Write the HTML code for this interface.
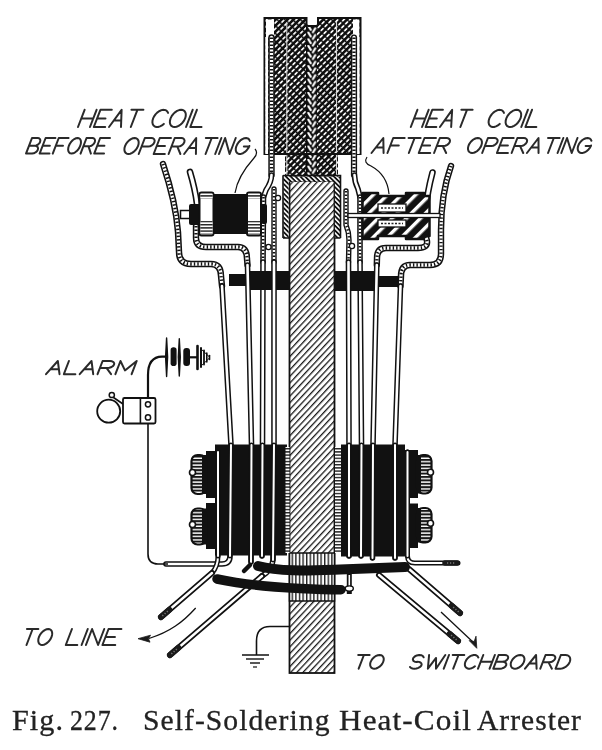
<!DOCTYPE html>
<html><head><meta charset="utf-8">
<style>
html,body{margin:0;padding:0;background:#fff;width:602px;height:750px;overflow:hidden}
svg{display:block;filter:blur(0.35px)}
.lbl{font-family:"Liberation Sans",sans-serif;font-style:italic;fill:#1e1e1e}
.cap{font-family:"Liberation Serif",serif;fill:#222;stroke:#222;stroke-width:0.3}
.bk{fill:none;stroke:#111;stroke-linejoin:round;stroke-linecap:round}
.wh{fill:none;stroke:#fff;stroke-linejoin:round;stroke-linecap:round}
.ln{fill:none;stroke:#111}
</style></head><body>
<svg width="602" height="750" viewBox="0 0 602 750">
<defs>
  <pattern id="hatch" patternUnits="userSpaceOnUse" width="4.5" height="4.5" patternTransform="rotate(43)">
    <rect width="4.5" height="4.5" fill="#fff"/>
    <rect x="0" y="0" width="1.3" height="4.5" fill="#1a1a1a"/>
  </pattern>
  <pattern id="dark" patternUnits="userSpaceOnUse" width="4.2" height="5.5" patternTransform="rotate(45)">
    <rect width="4.2" height="5.5" fill="#0e0e0e"/>
    <rect x="0" y="0" width="1.7" height="4.2" rx="0.8" fill="#fafafa"/>
  </pattern>
  <pattern id="herr" patternUnits="userSpaceOnUse" x="306" y="25" width="11.5" height="6.7">
    <rect width="11.5" height="6.7" fill="#0e0e0e"/>
    <path d="M2.3,0.8 L4.7,4.7 M9.3,3.3 L6.9,7.2 M9.3,-3.4 L6.9,0.5" stroke="#fff" stroke-width="2.1" stroke-linecap="round" fill="none"/>
  </pattern>
  <pattern id="stripes" patternUnits="userSpaceOnUse" width="10" height="10" patternTransform="rotate(45)">
    <rect width="10" height="10" fill="#111"/>
    <rect x="0" y="0" width="3.4" height="10" fill="#fff"/>
  </pattern>
  <pattern id="vstr" patternUnits="userSpaceOnUse" width="3.6" height="4">
    <rect width="3.6" height="4" fill="#fff"/>
    <rect x="0" y="0" width="1.4" height="4" fill="#222"/>
  </pattern>
  <pattern id="hstr" patternUnits="userSpaceOnUse" width="4" height="3.2">
    <rect width="4" height="3.2" fill="#fff"/>
    <rect x="0" y="0" width="4" height="1.4" fill="#222"/>
  </pattern>
  <pattern id="nstr" patternUnits="userSpaceOnUse" width="4" height="3.4">
    <rect width="4" height="3.4" fill="#fff"/>
    <rect x="0" y="0" width="4" height="2" fill="#161616"/>
  </pattern>
  <pattern id="rope" patternUnits="userSpaceOnUse" width="3.4" height="3.4" patternTransform="rotate(-45)">
    <rect width="3.4" height="3.4" fill="#111"/>
    <rect x="0" y="0" width="1.6" height="3.4" fill="#fff"/>
  </pattern>
</defs>

<rect x="264.5" y="18" width="95.5" height="136" fill="url(#dark)"/>
<rect x="285" y="150" width="53" height="27" fill="url(#dark)"/>
<rect x="306" y="25" width="11" height="151" fill="url(#herr)"/>
<line x1="286.8" y1="22" x2="286.8" y2="176" stroke="#d8d8d8" stroke-width="1.1"/>
<line x1="336.5" y1="22" x2="336.5" y2="176" stroke="#d8d8d8" stroke-width="1.1"/>
<rect x="266" y="19.5" width="8" height="18" fill="#fff"/>
<rect x="353" y="19.5" width="6.5" height="18" fill="#fff"/>
<path d="M306.5,17 L306.5,24 Q306.5,26 308.5,26 L316,26 Q318,26 318,24 L318,17 Z" fill="#fff"/>
<path d="M264.5,18 L306.5,18 L306.5,24 Q306.5,26 308.5,26 L316,26 Q318,26 318,24 L318,18 L360.5,18 L360.5,154 L264.5,154 Z" fill="none" stroke="#111" stroke-width="2"/>
<rect x="265.3" y="37" width="2.8" height="117" fill="#fff"/>
<rect x="357" y="37" width="2.6" height="117" fill="#fff"/>
<path d="M271.5,37.5 L271.5,154 L271.5,175" class="bk" stroke-width="6.4"/>
<path d="M271.5,37.5 L271.5,154 L271.5,175" class="wh" stroke-width="3.4"/>
<path d="M271.5,37.5 L271.5,154 L271.5,175" class="bk" stroke-width="3.4" stroke-dasharray="1.4 2.1" style="stroke-linecap:butt"/>
<path d="M354,37.5 L354,154 L354,175" class="bk" stroke-width="6.2"/>
<path d="M354,37.5 L354,154 L354,175" class="wh" stroke-width="3.3"/>
<path d="M354,37.5 L354,154 L354,175" class="bk" stroke-width="3.3" stroke-dasharray="1.4 2.1" style="stroke-linecap:butt"/>
<path d="M271.5,175 Q271.5,182 266,190 L263.5,197" class="bk" stroke-width="5.6"/>
<path d="M271.5,175 Q271.5,182 266,190 L263.5,197" class="wh" stroke-width="2.6"/>
<path d="M263.5,197 L263,262" class="bk" stroke-width="5.6"/>
<path d="M263.5,197 L263,262" class="wh" stroke-width="2.6"/>
<path d="M263.5,197 L263,262" class="bk" stroke-width="2.6" stroke-dasharray="1.4 2.1" style="stroke-linecap:butt"/>
<path d="M263,262 L262.5,445 L262,556" class="bk" stroke-width="5.6"/>
<path d="M263,262 L262.5,445 L262,556" class="wh" stroke-width="2.6"/>
<path d="M354.5,175 Q354.5,182 358,189 L360,197" class="bk" stroke-width="5.6"/>
<path d="M354.5,175 Q354.5,182 358,189 L360,197" class="wh" stroke-width="2.6"/>
<path d="M360,197 L360,262" class="bk" stroke-width="5.6"/>
<path d="M360,197 L360,262" class="wh" stroke-width="2.6"/>
<path d="M360,197 L360,262" class="bk" stroke-width="2.6" stroke-dasharray="1.4 2.1" style="stroke-linecap:butt"/>
<path d="M360,262 L361.5,445 L361,556" class="bk" stroke-width="5.6"/>
<path d="M360,262 L361.5,445 L361,556" class="wh" stroke-width="2.6"/>
<rect x="289.5" y="181" width="45" height="492" fill="url(#hatch)" stroke="#111" stroke-width="1.8"/>
<path d="M286,238 L286,179 L337.5,179 L337.5,238" fill="none" stroke="url(#rope)" stroke-width="5.2"/>
<path d="M283,238 L283,176 Q283,175.5 284,175.5 L340.5,175.5 L340.5,238" fill="none" stroke="#111" stroke-width="1.6"/>
<path d="M283,238 L289.5,238 M334.5,238 L340.5,238" stroke="#111" stroke-width="1.4"/>
<rect x="289.5" y="553" width="45" height="48" fill="url(#vstr)" stroke="#111" stroke-width="1.5"/>
<rect x="229" y="274" width="18" height="12" fill="#111"/>
<rect x="247" y="271" width="42" height="19" fill="#111"/>
<rect x="335" y="271" width="42" height="20" fill="#111"/>
<rect x="377" y="276" width="21" height="11" fill="#111"/>
<path d="M163,164 C169,182 176,205 178,232 L179,252 Q179,264 191,264 L211,264 Q221,264 221,276 L222,286" class="bk" stroke-width="6.4"/>
<path d="M163,164 C169,182 176,205 178,232 L179,252 Q179,264 191,264 L211,264 Q221,264 221,276 L222,286" class="wh" stroke-width="3.3"/>
<path d="M163,164 C169,182 176,205 178,232 L179,252 Q179,264 191,264 L211,264 Q221,264 221,276 L222,286" class="bk" stroke-width="3.3" stroke-dasharray="1.4 2.1" style="stroke-linecap:butt"/>
<path d="M222,286 L231,445 L230,556 Q230,564 222,564 L166,564" class="bk" stroke-width="5.6"/>
<path d="M222,286 L231,445 L230,556 Q230,564 222,564 L166,564" class="wh" stroke-width="2.6"/>
<path d="M190,172 C193,182 195.5,192 197,204" class="bk" stroke-width="6.6"/>
<path d="M190,172 C193,182 195.5,192 197,204" class="wh" stroke-width="3.4"/>
<path d="M196,226 L196,238 Q196,247 206,247 L238,247 Q247,247 247,259 L247.5,265" class="bk" stroke-width="6.4"/>
<path d="M196,226 L196,238 Q196,247 206,247 L238,247 Q247,247 247,259 L247.5,265" class="wh" stroke-width="3.3"/>
<path d="M196,226 L196,238 Q196,247 206,247 L238,247 Q247,247 247,259 L247.5,265" class="bk" stroke-width="3.3" stroke-dasharray="1.4 2.1" style="stroke-linecap:butt"/>
<path d="M247.5,265 L251.5,445 L251,562" class="bk" stroke-width="5.6"/>
<path d="M247.5,265 L251.5,445 L251,562" class="wh" stroke-width="2.6"/>
<path d="M274,189 L274,262" class="bk" stroke-width="5.4"/>
<path d="M274,189 L274,262" class="wh" stroke-width="2.6"/>
<path d="M274,189 L274,262" class="bk" stroke-width="2.6" stroke-dasharray="1.4 2.1" style="stroke-linecap:butt"/>
<path d="M274,262 L274,445 L273,560 Q272,570 262,576" class="bk" stroke-width="5.6"/>
<path d="M274,262 L274,445 L273,560 Q272,570 262,576" class="wh" stroke-width="2.6"/>
<path d="M218,452 L218,556 Q218,566 212,573" class="bk" stroke-width="5"/>
<path d="M218,452 L218,556 Q218,566 212,573" class="wh" stroke-width="2"/>
<path d="M451,166 C446,180 441,200 441,230 L441,254 Q441,265 430,265 L410,265 Q401,265 401,276 L400.5,286" class="bk" stroke-width="6.4"/>
<path d="M451,166 C446,180 441,200 441,230 L441,254 Q441,265 430,265 L410,265 Q401,265 401,276 L400.5,286" class="wh" stroke-width="3.3"/>
<path d="M451,166 C446,180 441,200 441,230 L441,254 Q441,265 430,265 L410,265 Q401,265 401,276 L400.5,286" class="bk" stroke-width="3.3" stroke-dasharray="1.4 2.1" style="stroke-linecap:butt"/>
<path d="M400.5,286 L395,445 L395,558" class="bk" stroke-width="5.6"/>
<path d="M400.5,286 L395,445 L395,558" class="wh" stroke-width="2.6"/>
<path d="M432.5,172.5 C430,182 427,195 426,208" class="bk" stroke-width="6.6"/>
<path d="M432.5,172.5 C430,182 427,195 426,208" class="wh" stroke-width="3.4"/>
<path d="M425,233 L427,241 Q428,248 418,248 L386,248 Q377,248 377,258 L376.8,265" class="bk" stroke-width="6.4"/>
<path d="M425,233 L427,241 Q428,248 418,248 L386,248 Q377,248 377,258 L376.8,265" class="wh" stroke-width="3.3"/>
<path d="M425,233 L427,241 Q428,248 418,248 L386,248 Q377,248 377,258 L376.8,265" class="bk" stroke-width="3.3" stroke-dasharray="1.4 2.1" style="stroke-linecap:butt"/>
<path d="M376.8,265 L373,445 L372.5,558" class="bk" stroke-width="5.6"/>
<path d="M376.8,265 L373,445 L372.5,558" class="wh" stroke-width="2.6"/>
<path d="M346,191 L346,225 Q349,232 349,240 L348.5,262" class="bk" stroke-width="5.4"/>
<path d="M346,191 L346,225 Q349,232 349,240 L348.5,262" class="wh" stroke-width="2.6"/>
<path d="M346,191 L346,225 Q349,232 349,240 L348.5,262" class="bk" stroke-width="2.6" stroke-dasharray="1.4 2.1" style="stroke-linecap:butt"/>
<path d="M348.5,262 L349,445 L349,556" class="bk" stroke-width="5.6"/>
<path d="M348.5,262 L349,445 L349,556" class="wh" stroke-width="2.6"/>
<path d="M407.5,452 L407.5,556 Q407.5,563 415,563 L458,563" class="bk" stroke-width="5"/>
<path d="M407.5,452 L407.5,556 Q407.5,563 415,563 L458,563" class="wh" stroke-width="2"/>
<circle cx="278" cy="198" r="2.6" fill="#fff" stroke="#111" stroke-width="1.3"/>
<circle cx="268.5" cy="247" r="2.6" fill="#fff" stroke="#111" stroke-width="1.3"/>
<circle cx="352" cy="246" r="2.6" fill="#fff" stroke="#111" stroke-width="1.3"/>
<rect x="180.5" y="210.5" width="10" height="8" fill="#fff" stroke="#111" stroke-width="1.5"/>
<rect x="189" y="204" width="12" height="21" rx="2" fill="#111"/>
<rect x="214" y="194" width="33" height="40" fill="#111"/>
<rect x="199.5" y="192.5" width="14" height="43" rx="2" fill="#fff" stroke="#111" stroke-width="2"/>
<rect x="200.5" y="193.5" width="12" height="5" fill="url(#hstr)"/>
<rect x="200.5" y="221" width="12" height="13.5" fill="url(#hstr)"/>
<rect x="247" y="192.5" width="14" height="43" rx="2" fill="#fff" stroke="#111" stroke-width="2"/>
<rect x="248" y="193.5" width="12" height="5" fill="url(#hstr)"/>
<rect x="248" y="221" width="12" height="13.5" fill="url(#hstr)"/>
<rect x="261" y="204" width="6" height="20" rx="2" fill="#111"/>
<path d="M362.5,196 L362.5,193 L378,193 L378,196 L406,196 L406,193 L424,193 L424,196 L429.5,196 L429.5,236 L424,236 L424,239 L406,239 L406,236 L378,236 L378,239 L362.5,239 Z" fill="url(#stripes)" stroke="#111" stroke-width="2.5" stroke-linejoin="round"/>
<rect x="378" y="204" width="28" height="8" fill="#fff" stroke="#111" stroke-width="1.3"/>
<line x1="381" y1="208" x2="403" y2="208" stroke="#222" stroke-width="1.6" stroke-dasharray="2 1.5"/>
<rect x="378" y="220" width="28" height="7" fill="#fff" stroke="#111" stroke-width="1.3"/>
<line x1="381" y1="223.5" x2="403" y2="223.5" stroke="#222" stroke-width="1.6" stroke-dasharray="2 1.5"/>
<rect x="348" y="213.5" width="92" height="4" fill="#fff" stroke="#111" stroke-width="1.3"/>
<rect x="215" y="444.5" width="72" height="111" fill="#111"/>
<rect x="285.5" y="447" width="4" height="106" fill="url(#hstr)"/>
<rect x="341" y="444.5" width="64" height="112" fill="#111"/>
<rect x="335" y="447" width="6" height="106" fill="url(#hstr)"/>
<rect x="206" y="451" width="10" height="47" fill="#111"/>
<rect x="206" y="503" width="10" height="46" fill="#111"/>
<rect x="405" y="450" width="13" height="48" fill="#111"/>
<rect x="405" y="503.5" width="13" height="44.5" fill="#111"/>
<rect x="191.5" y="455" width="14.5" height="39" rx="6" fill="url(#nstr)" stroke="#111" stroke-width="2.2"/>
<rect x="202.0" y="455" width="4" height="39" fill="#111"/>
<circle cx="192.5" cy="472.5" r="3" fill="#fff" stroke="#111" stroke-width="1.6"/>
<rect x="191.5" y="508.5" width="14.5" height="36" rx="6" fill="url(#nstr)" stroke="#111" stroke-width="2.2"/>
<rect x="202.0" y="508.5" width="4" height="36" fill="#111"/>
<circle cx="192.5" cy="524.5" r="3" fill="#fff" stroke="#111" stroke-width="1.6"/>
<rect x="417" y="455" width="14.5" height="38.5" rx="6" fill="url(#nstr)" stroke="#111" stroke-width="2.2"/>
<rect x="417" y="455" width="4" height="38.5" fill="#111"/>
<circle cx="430.5" cy="472.25" r="3" fill="#fff" stroke="#111" stroke-width="1.6"/>
<rect x="417" y="508" width="14.5" height="34.5" rx="6" fill="url(#nstr)" stroke="#111" stroke-width="2.2"/>
<rect x="417" y="508" width="4" height="34.5" fill="#111"/>
<circle cx="430.5" cy="523.25" r="3" fill="#fff" stroke="#111" stroke-width="1.6"/>
<path d="M231,445 L230,556" class="bk" stroke-width="5"/>
<path d="M231,445 L230,556" class="wh" stroke-width="2"/>
<path d="M251.5,445 L251,562" class="bk" stroke-width="5"/>
<path d="M251.5,445 L251,562" class="wh" stroke-width="2"/>
<path d="M262.5,445 L262,556" class="bk" stroke-width="5"/>
<path d="M262.5,445 L262,556" class="wh" stroke-width="2"/>
<path d="M274,445 L273,560" class="bk" stroke-width="5"/>
<path d="M274,445 L273,560" class="wh" stroke-width="2"/>
<path d="M218,452 L218,556" class="bk" stroke-width="5"/>
<path d="M218,452 L218,556" class="wh" stroke-width="2"/>
<path d="M395,445 L395,558" class="bk" stroke-width="5"/>
<path d="M395,445 L395,558" class="wh" stroke-width="2"/>
<path d="M373,445 L372.5,558" class="bk" stroke-width="5"/>
<path d="M373,445 L372.5,558" class="wh" stroke-width="2"/>
<path d="M361.5,445 L361,556" class="bk" stroke-width="5"/>
<path d="M361.5,445 L361,556" class="wh" stroke-width="2"/>
<path d="M349,445 L349,556" class="bk" stroke-width="5"/>
<path d="M349,445 L349,556" class="wh" stroke-width="2"/>
<path d="M407.5,452 L407.5,556" class="bk" stroke-width="5"/>
<path d="M407.5,452 L407.5,556" class="wh" stroke-width="2"/>
<path d="M212,573 L161,617" class="bk" stroke-width="6"/>
<path d="M212,573 L161,617" class="wh" stroke-width="2.4"/>
<path d="M262,576 L170,655" class="bk" stroke-width="6"/>
<path d="M262,576 L170,655" class="wh" stroke-width="2.4"/>
<path d="M409,569 L460,613" class="bk" stroke-width="6"/>
<path d="M409,569 L460,613" class="wh" stroke-width="2.4"/>
<path d="M379,575 L458,641" class="bk" stroke-width="6"/>
<path d="M379,575 L458,641" class="wh" stroke-width="2.4"/>
<path d="M169.3,609.8 L161.0,617.0" stroke="#1a1a1a" stroke-width="6" stroke-linecap="round"/>
<path d="M167.8,611.1 L161.8,616.3" stroke="#777" stroke-width="1.6" stroke-dasharray="1.2 1.8"/>
<path d="M178.3,647.8 L170.0,655.0" stroke="#1a1a1a" stroke-width="6" stroke-linecap="round"/>
<path d="M176.8,649.1 L170.8,654.3" stroke="#777" stroke-width="1.6" stroke-dasharray="1.2 1.8"/>
<path d="M451.7,605.8 L460.0,613.0" stroke="#1a1a1a" stroke-width="6" stroke-linecap="round"/>
<path d="M453.2,607.1 L459.2,612.3" stroke="#777" stroke-width="1.6" stroke-dasharray="1.2 1.8"/>
<path d="M449.6,633.9 L458.0,641.0" stroke="#1a1a1a" stroke-width="6" stroke-linecap="round"/>
<path d="M451.1,635.2 L457.2,640.4" stroke="#777" stroke-width="1.6" stroke-dasharray="1.2 1.8"/>
<path d="M250,565 L244,571" stroke="#111" stroke-width="4.5" stroke-linecap="round"/>
<path d="M445,563 L457,563" stroke="#1a1a1a" stroke-width="5.5" stroke-linecap="round"/>
<path d="M447,563 L456,563" stroke="#777" stroke-width="1.5" stroke-dasharray="1.2 1.8"/>
<path d="M258,566 C280,572 310,570.5 340,569.5 C370,568.5 392,567.5 405,567" fill="none" stroke="#111" stroke-width="10" stroke-linecap="round"/>
<path d="M217,579 C240,584 270,587 300,588.5 C320,589.5 333,589.7 341,589.7" fill="none" stroke="#111" stroke-width="9.5" stroke-linecap="round"/>
<path d="M349.3,574 L349.3,594" stroke="#111" stroke-width="5"/>
<path d="M349.3,575 L349.3,586" stroke="#fff" stroke-width="1.6"/>
<ellipse cx="349.3" cy="588.5" rx="4" ry="2.6" fill="#fff" stroke="#111" stroke-width="1.4"/>
<path d="M148,401.5 L148,375 Q148,357 162,356.7 L166,356.7" class="ln" stroke-width="2.2"/>
<path d="M148,423 L148,554 Q148,564 158,564 L168,564" class="ln" stroke-width="1.6"/>
<path d="M166.6,338 L167.6,357 L166.6,376.5 L165.6,357 Z" fill="#111" stroke="#111" stroke-width="1.4" stroke-linejoin="round"/>
<path d="M179.3,338.7 L180.3,357 L179.3,376 L178.3,357 Z" fill="#111" stroke="#111" stroke-width="1.4" stroke-linejoin="round"/>
<rect x="170.6" y="347.3" width="6" height="18.7" rx="2.8" fill="#111"/>
<rect x="183.3" y="348" width="6.7" height="18" rx="3" fill="#111"/>
<line x1="189" y1="357.3" x2="197" y2="357.3" stroke="#111" stroke-width="2.2"/>
<line x1="197.5" y1="346.0" x2="197.5" y2="369.0" stroke="#111" stroke-width="2.6" stroke-linecap="round"/>
<line x1="201" y1="348.0" x2="201" y2="367.0" stroke="#111" stroke-width="2" stroke-linecap="round"/>
<line x1="204" y1="350.5" x2="204" y2="364.5" stroke="#111" stroke-width="1.8" stroke-linecap="round"/>
<line x1="206.8" y1="353.0" x2="206.8" y2="362.0" stroke="#111" stroke-width="1.6" stroke-linecap="round"/>
<line x1="209.5" y1="355.5" x2="209.5" y2="359.5" stroke="#111" stroke-width="1.6" stroke-linecap="round"/>
<path d="M200,348 L210,357.5 L200,367" fill="none" stroke="#111" stroke-width="1"/>
<circle cx="108.7" cy="411.2" r="11.5" fill="none" stroke="#111" stroke-width="1.8"/>
<circle cx="111.8" cy="395" r="2.6" fill="none" stroke="#111" stroke-width="1.5"/>
<path d="M113.5,397.5 L123,404" stroke="#111" stroke-width="1.6"/>
<rect x="123" y="398" width="32.5" height="25.5" rx="1.5" fill="#fff" stroke="#111" stroke-width="1.8"/>
<line x1="140.4" y1="398" x2="140.4" y2="423.5" stroke="#111" stroke-width="1.6"/>
<circle cx="148" cy="404.3" r="2.6" fill="none" stroke="#111" stroke-width="1.5"/>
<circle cx="148" cy="417.4" r="2.6" fill="none" stroke="#111" stroke-width="1.5"/>
<path d="M289,626.5 L270,626.5 Q256.5,626.5 256.5,641 L256.5,655" class="ln" stroke-width="1.6"/>
<line x1="242" y1="655" x2="269" y2="655" stroke="#111" stroke-width="1.5"/>
<line x1="246" y1="659" x2="264" y2="659" stroke="#111" stroke-width="1.4"/>
<line x1="250" y1="663" x2="260" y2="663" stroke="#111" stroke-width="1.4"/>
<line x1="253" y1="667" x2="257" y2="667" stroke="#111" stroke-width="1.2"/>
<path d="M195.7,608 C183,622 170,632 149,638.5" class="ln" stroke-width="1.3"/>
<path d="M138,638.7 L150.5,635.2 L148.5,638.7 L150,642.2 Z" fill="#1a1a1a" stroke="#1a1a1a" stroke-width="0.8" stroke-linejoin="round"/>
<path d="M441,612 L474,643" class="ln" stroke-width="1.3"/>
<path d="M476.8,648.3 L476,636.2 L474.2,641.5 L469.2,640.6 Z" fill="#1a1a1a" stroke="#1a1a1a" stroke-width="0.8" stroke-linejoin="round"/>
<path d="M255,149 Q258.5,153 254,158 C246,167 237,180 235,193" class="ln" stroke-width="1.2"/>
<path d="M367,157 Q363,163 371,166 C382,172 388,182 389,194" class="ln" stroke-width="1.2"/>
<path class="lt" d="M84.60,109.80 L78.00,127.00 M96.58,109.80 L89.98,127.00 M81.30,118.40 L93.28,118.40 M111.79,109.80 L100.41,109.80 L93.81,127.00 L105.18,127.00 M97.11,118.40 L105.49,118.40 M109.02,127.00 L121.61,109.80 L120.99,127.00 M114.10,120.61 L120.81,120.61 M131.42,109.80 L143.40,109.80 M137.41,109.80 L130.81,127.00" fill="none" stroke="#2a2a2a" stroke-width="2.0" stroke-linecap="round" stroke-linejoin="round"/>
<path class="lt" d="M168.07,112.87 L167.32,111.44 L166.16,110.43 L164.66,109.88 L162.90,109.85 L160.99,110.32 L159.04,111.27 L157.18,112.65 L155.50,114.36 L154.11,116.32 L153.10,118.40 L152.52,120.48 L152.40,122.44 L152.76,124.15 L153.57,125.53 L154.78,126.48 L156.33,126.95 L158.12,126.92 L160.04,126.37 L161.98,125.36 L163.83,123.93 M185.12,118.40 L184.02,120.63 L182.49,122.70 L180.65,124.48 L178.62,125.85 L176.54,126.71 L174.54,127.00 L172.77,126.71 L171.34,125.85 L170.36,124.48 L169.89,122.70 L169.96,120.63 L170.56,118.40 L171.67,116.17 L173.19,114.10 L175.03,112.32 L177.06,110.95 L179.15,110.09 L181.14,109.80 L182.91,110.09 L184.34,110.95 L185.32,112.32 L185.79,114.10 L185.72,116.17 L185.12,118.40 M192.65,109.80 L186.05,127.00 M196.89,109.80 L190.29,127.00 L201.53,127.00" fill="none" stroke="#2a2a2a" stroke-width="2.0" stroke-linecap="round" stroke-linejoin="round"/>
<path class="lt" d="M28.99,145.80 L31.99,138.00 L37.67,138.00 L37.67,138.00 L39.06,138.30 L40.01,139.14 L40.37,140.41 L40.10,141.90 L39.23,143.39 L37.89,144.66 L36.29,145.50 L34.68,145.80 L28.99,145.80 M34.68,145.80 L34.99,145.80 L36.53,146.10 L37.62,146.94 L38.07,148.21 L37.83,149.70 L36.93,151.19 L35.50,152.46 L33.77,153.30 L31.99,153.60 L26.00,153.60 L28.99,145.80 M55.44,138.00 L45.63,138.00 L39.64,153.60 L49.46,153.60 M42.63,145.80 L49.87,145.80 M68.57,138.00 L58.75,138.00 L52.76,153.60 M55.76,145.80 L62.99,145.80 M80.24,145.80 L79.28,147.82 L77.99,149.70 L76.46,151.32 L74.81,152.55 L73.14,153.33 L71.57,153.60 L70.20,153.33 L69.13,152.55 L68.43,151.32 L68.14,149.70 L68.30,147.82 L68.88,145.80 L69.85,143.78 L71.14,141.90 L72.66,140.28 L74.31,139.05 L75.98,138.27 L77.56,138.00 L78.92,138.27 L80.00,139.05 L80.70,140.28 L80.98,141.90 L80.83,143.78 L80.24,145.80 M80.56,153.60 L86.54,138.00 L92.23,138.00 L92.23,138.00 L93.69,138.32 L94.68,139.22 L95.06,140.58 L94.76,142.18 L93.83,143.78 L92.41,145.13 L90.72,146.04 L89.02,146.36 L83.34,146.36 M88.50,146.36 L90.89,153.60 M110.00,138.00 L100.18,138.00 L94.20,153.60 L104.01,153.60 M97.19,145.80 L104.42,145.80" fill="none" stroke="#2a2a2a" stroke-width="2.0" stroke-linecap="round" stroke-linejoin="round"/>
<path class="lt" d="M138.02,146.00 L137.00,148.07 L135.61,150.00 L133.95,151.66 L132.12,152.93 L130.25,153.73 L128.47,154.00 L126.90,153.73 L125.65,152.93 L124.79,151.66 L124.40,150.00 L124.49,148.07 L125.07,146.00 L126.08,143.93 L127.47,142.00 L129.14,140.34 L130.96,139.07 L132.83,138.27 L134.61,138.00 L136.18,138.27 L137.44,139.07 L138.29,140.34 L138.68,142.00 L138.59,143.93 L138.02,146.00 M138.71,154.00 L144.85,138.00 L151.33,138.00 L151.33,138.00 L153.00,138.33 L154.18,139.26 L154.66,140.65 L154.39,142.29 L153.40,143.93 L151.85,145.32 L149.96,146.25 L148.04,146.57 L141.56,146.57 M170.99,138.00 L159.80,138.00 L153.66,154.00 L164.84,154.00 M156.73,146.00 L164.97,146.00 M168.61,154.00 L174.75,138.00 L181.23,138.00 L181.23,138.00 L182.90,138.33 L184.07,139.26 L184.56,140.65 L184.29,142.29 L183.30,143.93 L181.75,145.32 L179.86,146.25 L177.94,146.57 L171.46,146.57 M177.35,146.57 L180.38,154.00 M184.15,154.00 L196.18,138.00 L195.92,154.00 M189.02,148.06 L195.61,148.06 M205.83,138.00 L217.60,138.00 M211.71,138.00 L205.57,154.00 M221.37,138.00 L215.22,154.00 M218.99,154.00 L225.13,138.00 L229.59,154.00 L235.73,138.00 M249.83,140.86 L249.06,139.37 L247.82,138.39 L246.19,138.00 L244.31,138.24 L242.32,139.07 L240.37,140.44 L238.62,142.24 L237.20,144.34 L236.22,146.56 L235.76,148.74 L235.85,150.70 L236.49,152.30 L237.62,153.42 L239.17,153.96 L241.00,153.88 L242.97,153.19 L244.95,151.95 L246.76,150.24 L248.27,148.21 L249.37,146.00 L249.15,146.57 M249.15,146.57 L243.85,146.57" fill="none" stroke="#2a2a2a" stroke-width="2.0" stroke-linecap="round" stroke-linejoin="round"/>
<path class="lt" d="M417.40,109.80 L410.80,127.00 M428.64,109.80 L422.04,127.00 M414.10,118.40 L425.34,118.40 M442.92,109.80 L432.24,109.80 L425.64,127.00 L436.32,127.00 M428.94,118.40 L436.81,118.40 M439.92,127.00 L452.14,109.80 L451.16,127.00 M444.84,120.61 L451.14,120.61 M461.36,109.80 L472.60,109.80 M466.98,109.80 L460.38,127.00" fill="none" stroke="#2a2a2a" stroke-width="2.0" stroke-linecap="round" stroke-linejoin="round"/>
<path class="lt" d="M503.94,112.87 L503.23,111.44 L502.11,110.43 L500.65,109.88 L498.94,109.85 L497.08,110.32 L495.18,111.27 L493.35,112.65 L491.70,114.36 L490.33,116.32 L489.32,118.40 L488.73,120.48 L488.60,122.44 L488.93,124.15 L489.70,125.53 L490.88,126.48 L492.38,126.95 L494.12,126.92 L495.99,126.37 L497.89,125.36 L499.70,123.93 M520.47,118.40 L519.37,120.63 L517.87,122.70 L516.06,124.48 L514.07,125.85 L512.03,126.71 L510.09,127.00 L508.37,126.71 L506.99,125.85 L506.05,124.48 L505.61,122.70 L505.70,120.63 L506.31,118.40 L507.40,116.17 L508.91,114.10 L510.72,112.32 L512.71,110.95 L514.74,110.09 L516.69,109.80 L518.41,110.09 L519.79,110.95 L520.73,112.32 L521.17,114.10 L521.08,116.17 L520.47,118.40 M527.88,109.80 L521.28,127.00 M532.00,109.80 L525.40,127.00 L536.34,127.00" fill="none" stroke="#2a2a2a" stroke-width="2.0" stroke-linecap="round" stroke-linejoin="round"/>
<path class="lt" d="M371.50,153.00 L383.30,138.00 L383.58,153.00 M376.30,147.43 L383.06,147.43 M404.68,138.00 L393.21,138.00 L387.45,153.00 M390.33,145.50 L398.78,145.50 M408.55,138.00 L420.63,138.00 M414.59,138.00 L408.83,153.00 M435.97,138.00 L424.50,138.00 L418.74,153.00 L430.21,153.00 M421.62,145.50 L430.07,145.50 M434.08,153.00 L439.84,138.00 L446.48,138.00 L446.48,138.00 L448.22,138.31 L449.45,139.18 L450.00,140.48 L449.77,142.02 L448.82,143.56 L447.27,144.86 L445.37,145.73 L443.40,146.04 L436.75,146.04 M442.79,146.04 L446.16,153.00" fill="none" stroke="#2a2a2a" stroke-width="2.0" stroke-linecap="round" stroke-linejoin="round"/>
<path class="lt" d="M481.34,145.50 L480.38,147.44 L479.05,149.25 L477.44,150.80 L475.66,152.00 L473.83,152.74 L472.08,153.00 L470.53,152.74 L469.28,152.00 L468.42,150.80 L468.00,149.25 L468.06,147.44 L468.58,145.50 L469.55,143.56 L470.88,141.75 L472.49,140.20 L474.27,139.00 L476.09,138.26 L477.84,138.00 L479.40,138.26 L480.65,139.00 L481.51,140.20 L481.93,141.75 L481.87,143.56 L481.34,145.50 M482.18,153.00 L487.93,138.00 L494.31,138.00 L494.31,138.00 L495.97,138.31 L497.14,139.18 L497.65,140.48 L497.41,142.02 L496.47,143.56 L494.96,144.86 L493.12,145.73 L491.23,146.04 L484.85,146.04 M513.68,138.00 L502.66,138.00 L496.90,153.00 L507.92,153.00 M499.78,145.50 L507.90,145.50 M511.63,153.00 L517.39,138.00 L523.77,138.00 L523.77,138.00 L525.43,138.31 L526.60,139.18 L527.11,140.48 L526.87,142.02 L525.93,143.56 L524.42,144.86 L522.58,145.73 L520.69,146.04 L514.31,146.04 M520.11,146.04 L523.23,153.00 M526.94,153.00 L538.50,138.00 L538.54,153.00 M531.63,147.43 L538.13,147.43 M548.01,138.00 L559.61,138.00 M553.81,138.00 L548.05,153.00 M563.32,138.00 L557.56,153.00 M561.27,153.00 L567.03,138.00 L571.71,153.00 L577.47,138.00 M591.42,140.68 L590.64,139.28 L589.39,138.37 L587.78,138.00 L585.93,138.22 L583.99,139.00 L582.09,140.29 L580.40,141.98 L579.04,143.94 L578.12,146.02 L577.70,148.07 L577.83,149.91 L578.49,151.41 L579.62,152.45 L581.15,152.96 L582.96,152.89 L584.89,152.24 L586.81,151.07 L588.57,149.47 L590.02,147.57 L591.06,145.50 L590.86,146.04 M590.86,146.04 L585.64,146.04" fill="none" stroke="#2a2a2a" stroke-width="2.0" stroke-linecap="round" stroke-linejoin="round"/>
<path class="lt" d="M46.00,374.20 L57.83,361.00 L59.53,374.20 M50.86,369.30 L58.43,369.30 M68.92,361.00 L63.86,374.20 L75.36,374.20 M79.69,374.20 L91.52,361.00 L93.21,374.20 M84.54,369.30 L92.12,369.30 M97.54,374.20 L102.61,361.00 L110.05,361.00 L110.05,361.00 L112.02,361.27 L113.48,362.04 L114.21,363.18 L114.10,364.54 L113.17,365.89 L111.56,367.04 L109.51,367.80 L107.34,368.07 L99.89,368.07 M106.66,368.07 L111.07,374.20 M115.40,374.20 L120.47,361.00 L124.96,370.43 L136.70,361.00 L131.63,374.20" fill="none" stroke="#2a2a2a" stroke-width="2.0" stroke-linecap="round" stroke-linejoin="round"/>
<path class="lt" d="M26.93,629.00 L38.35,629.00 M32.64,629.00 L26.50,645.00 M51.51,637.00 L50.50,639.07 L49.13,641.00 L47.49,642.66 L45.70,643.93 L43.88,644.73 L42.15,645.00 L40.63,644.73 L39.42,643.93 L38.61,642.66 L38.25,641.00 L38.36,639.07 L38.94,637.00 L39.95,634.93 L41.32,633.00 L42.95,631.34 L44.74,630.07 L46.56,629.27 L48.29,629.00 L49.81,629.27 L51.02,630.07 L51.84,631.34 L52.20,633.00 L52.09,634.93 L51.51,637.00" fill="none" stroke="#2a2a2a" stroke-width="2.0" stroke-linecap="round" stroke-linejoin="round"/>
<path class="lt" d="M71.94,629.00 L65.80,645.00 L77.29,645.00 M87.75,629.00 L81.61,645.00 M85.93,645.00 L92.08,629.00 L98.10,645.00 L104.24,629.00 M121.40,629.00 L108.56,629.00 L102.42,645.00 L115.26,645.00 M105.49,637.00 L114.95,637.00" fill="none" stroke="#2a2a2a" stroke-width="2.0" stroke-linecap="round" stroke-linejoin="round"/>
<path class="lt" d="M358.20,655.00 L369.63,655.00 M363.92,655.00 L358.66,668.70 M383.24,661.85 L382.34,663.62 L381.08,665.28 L379.54,666.69 L377.82,667.78 L376.04,668.47 L374.32,668.70 L372.78,668.47 L371.53,667.78 L370.65,666.69 L370.19,665.28 L370.20,663.62 L370.66,661.85 L371.56,660.08 L372.82,658.42 L374.36,657.01 L376.08,655.92 L377.86,655.23 L379.58,655.00 L381.12,655.23 L382.37,655.92 L383.26,657.01 L383.71,658.42 L383.71,660.08 L383.24,661.85" fill="none" stroke="#2a2a2a" stroke-width="2.0" stroke-linecap="round" stroke-linejoin="round"/>
<path class="lt" d="M423.60,657.32 L422.88,656.03 L421.30,655.21 L419.14,655.01 L416.81,655.47 L414.75,656.50 L413.35,657.91 L412.86,659.43 L413.38,660.79 L414.82,661.72 L416.89,662.05 L417.04,661.65 L418.94,661.87 L420.45,662.48 L421.38,663.42 L421.63,664.57 L421.16,665.79 L420.03,666.94 L418.37,667.88 L416.40,668.49 L414.34,668.70 L412.44,668.49 L410.93,667.88 L410.00,666.94 M429.09,655.00 L427.88,668.70 L436.07,657.94 L435.99,668.70 L445.30,655.00 M449.00,655.00 L443.75,668.70 M452.71,655.00 L464.29,655.00 M458.50,655.00 L453.24,668.70 M478.30,657.45 L477.60,656.31 L476.55,655.50 L475.22,655.07 L473.68,655.04 L472.02,655.41 L470.35,656.17 L468.76,657.27 L467.34,658.63 L466.19,660.19 L465.36,661.85 L464.92,663.51 L464.87,665.07 L465.24,666.43 L465.99,667.53 L467.08,668.29 L468.45,668.66 L470.01,668.63 L471.68,668.20 L473.35,667.39 L474.92,666.25 M483.27,655.00 L478.02,668.70 M494.85,655.00 L489.59,668.70 M480.65,661.85 L492.22,661.85 M495.93,661.85 L498.56,655.00 L504.93,655.00 L504.93,655.00 L506.51,655.26 L507.65,656.00 L508.18,657.11 L508.01,658.42 L507.17,659.74 L505.79,660.85 L504.08,661.59 L502.30,661.85 L495.93,661.85 M502.30,661.85 L502.64,661.85 L504.40,662.11 L505.70,662.85 L506.32,663.96 L506.19,665.28 L505.32,666.59 L503.84,667.70 L501.97,668.44 L500.01,668.70 L493.30,668.70 L495.93,661.85 M523.95,661.85 L523.05,663.62 L521.78,665.28 L520.22,666.69 L518.49,667.78 L516.69,668.47 L514.95,668.70 L513.39,668.47 L512.12,667.78 L511.22,666.69 L510.75,665.28 L510.75,663.62 L511.21,661.85 L512.11,660.08 L513.38,658.42 L514.94,657.01 L516.67,655.92 L518.47,655.23 L520.21,655.00 L521.77,655.23 L523.04,655.92 L523.94,657.01 L524.41,658.42 L524.41,660.08 L523.95,661.85 M525.02,668.70 L536.07,655.00 L536.60,668.70 M529.52,663.61 L536.01,663.61 M540.30,668.70 L545.56,655.00 L551.93,655.00 L551.93,655.00 L553.60,655.28 L554.79,656.07 L555.34,657.27 L555.15,658.67 L554.26,660.07 L552.80,661.26 L550.99,662.06 L549.11,662.34 L542.75,662.34 M548.54,662.34 L551.88,668.70 M560.85,655.00 L555.59,668.70 L560.22,668.70 L560.22,668.70 L561.83,668.53 L563.49,668.02 L565.12,667.21 L566.64,666.12 L567.97,664.82 L569.04,663.37 L569.79,661.85 L570.21,660.33 L570.25,658.88 L569.92,657.58 L569.24,656.49 L568.23,655.68 L566.96,655.17 L565.48,655.00 L560.85,655.00" fill="none" stroke="#2a2a2a" stroke-width="2.0" stroke-linecap="round" stroke-linejoin="round"/>
<text class="cap" x="12" y="730" font-size="28.5" letter-spacing="1" textLength="52" lengthAdjust="spacingAndGlyphs">Fig.</text>
<text class="cap" x="70" y="730" font-size="28.5" letter-spacing="1" textLength="49" lengthAdjust="spacingAndGlyphs">227.</text>
<text class="cap" x="143" y="730" font-size="28.5" letter-spacing="1" textLength="187.5" lengthAdjust="spacingAndGlyphs">Self-Soldering</text>
<text class="cap" x="339" y="730" font-size="28.5" letter-spacing="1" textLength="133" lengthAdjust="spacingAndGlyphs">Heat-Coil</text>
<text class="cap" x="477" y="730" font-size="28.5" letter-spacing="1" textLength="105" lengthAdjust="spacingAndGlyphs">Arrester</text>
</svg>
</body></html>
